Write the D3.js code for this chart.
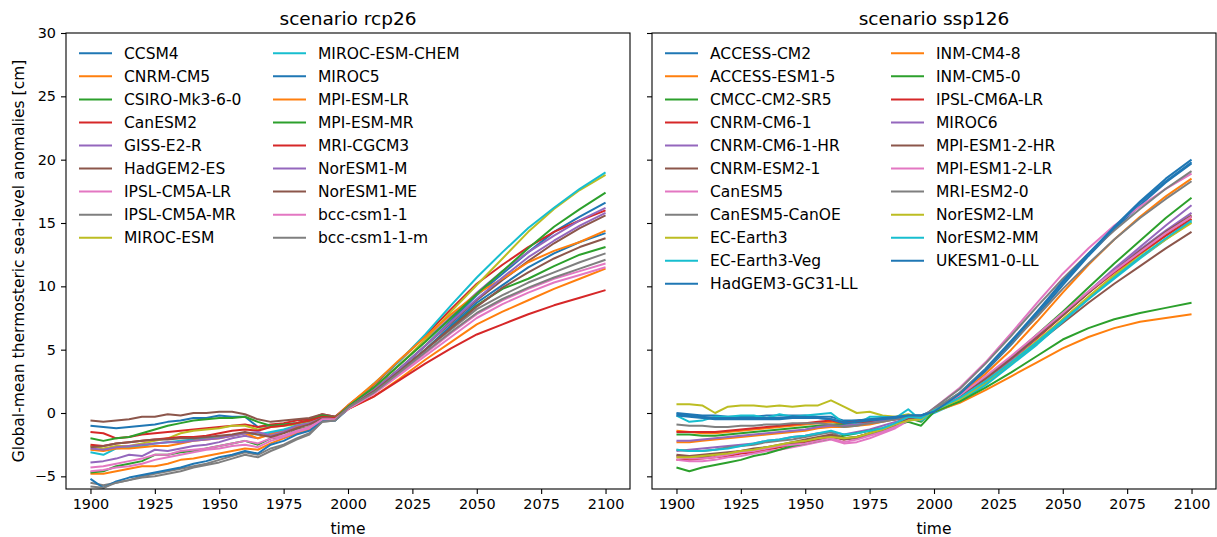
<!DOCTYPE html>
<html>
<head>
<meta charset="utf-8">
<script src="https://cdn.jsdelivr.net/npm/d3@7"></script>
<style>
  html, body { margin: 0; padding: 0; background: #fff; }
  svg { display: block; font-family: "DejaVu Sans", sans-serif; }
</style>
</head>
<body>
<svg id="chart" width="1217" height="537"></svg>
<script>
// ---------------- data ----------------
const years = [1900,1905,1910,1915,1920,1925,1930,1935,1940,1945,1950,1955,1960,1965,1970,1975,1980,1985,1990,1995,2000,
               2010,2020,2030,2040,2050,2060,2070,2080,2090,2100];
const xTicks = [1900,1925,1950,1975,2000,2025,2050,2075,2100];
const yTicks = [-5,0,5,10,15,20,25,30];
const palette = ["#1f77b4","#ff7f0e","#2ca02c","#d62728","#9467bd","#8c564b","#e377c2","#7f7f7f","#bcbd22","#17becf"];

const rcp26Names = ["CCSM4","CNRM-CM5","CSIRO-Mk3-6-0","CanESM2","GISS-E2-R","HadGEM2-ES","IPSL-CM5A-LR","IPSL-CM5A-MR","MIROC-ESM","MIROC-ESM-CHEM","MIROC5","MPI-ESM-LR","MPI-ESM-MR","MRI-CGCM3","NorESM1-M","NorESM1-ME","bcc-csm1-1","bcc-csm1-1-m"];
const rcp26Values = [
  [-1.0,-1.1,-1.2,-1.1,-1.0,-0.9,-0.7,-0.6,-0.4,-0.4,-0.2,-0.3,-0.3,-1.1,-1.0,-0.9,-0.8,-0.6,-0.2,-0.3,0.4, 1.8,3.5,5.3,7.3,9.3,11.0,12.7,14.3,15.5,16.6],
  [-4.8,-4.8,-4.6,-4.4,-4.2,-4.2,-4.0,-3.7,-3.6,-3.4,-3.2,-3.0,-2.8,-2.9,-2.4,-2.0,-1.6,-1.3,-0.6,-0.5,0.3, 1.3,2.7,4.2,5.6,7.0,8.0,8.9,9.8,10.6,11.4],
  [-4.7,-4.6,-4.2,-4.0,-3.8,-3.3,-3.3,-3.1,-3.0,-2.8,-2.6,-2.4,-2.2,-2.5,-2.0,-1.9,-1.3,-1.1,-0.4,-0.5,0.4, 1.7,3.3,5.0,6.8,8.5,9.8,10.6,11.6,12.5,13.1],
  [-1.5,-1.6,-2.0,-1.9,-1.7,-1.6,-1.5,-1.4,-1.3,-1.2,-1.1,-1.0,-0.9,-1.1,-0.9,-0.8,-0.6,-0.5,-0.1,-0.3,0.6, 2.2,4.1,6.1,8.2,10.2,11.7,13.1,14.3,15.2,16.0],
  [-3.9,-3.8,-3.6,-3.3,-3.4,-2.9,-3.0,-2.8,-2.6,-2.5,-2.3,-2.0,-1.8,-2.0,-1.6,-1.4,-1.0,-0.9,-0.4,-0.5,0.5, 2.0,3.8,5.7,7.6,9.5,11.2,12.7,14.0,15.2,16.2],
  [-0.6,-0.7,-0.6,-0.5,-0.3,-0.3,-0.1,-0.2,0.0,0.0,0.1,0.1,-0.1,-0.5,-0.7,-0.6,-0.5,-0.4,-0.1,-0.3,0.4, 1.8,3.5,5.3,7.1,8.9,10.5,12.0,13.4,14.6,15.6],
  [-4.3,-4.2,-4.0,-3.8,-3.6,-3.3,-3.3,-3.0,-2.9,-2.8,-2.6,-2.4,-2.2,-2.4,-2.0,-1.8,-1.4,-1.1,-0.5,-0.5,0.4, 1.6,3.1,4.7,6.3,7.8,8.9,9.8,10.6,11.2,11.8],
  [-5.5,-5.7,-5.5,-5.3,-5.0,-4.8,-4.6,-4.4,-4.2,-4.0,-3.7,-3.4,-3.1,-3.3,-2.8,-2.5,-2.0,-1.6,-0.7,-0.6,0.4, 1.7,3.3,5.0,6.6,8.2,9.3,10.3,11.1,11.9,12.6],
  [-2.6,-2.8,-2.6,-2.6,-2.4,-2.2,-2.0,-1.6,-1.4,-1.3,-1.2,-1.0,-1.0,-1.3,-1.1,-1.0,-0.9,-0.7,-0.4,-0.4,0.4, 2.0,3.8,5.8,8.0,10.1,12.2,14.3,16.1,17.6,18.8],
  [-3.1,-3.3,-2.8,-2.7,-2.6,-2.4,-2.3,-2.2,-2.1,-2.0,-1.9,-1.8,-1.6,-1.7,-1.5,-1.3,-1.0,-0.8,-0.4,-0.5,0.5, 2.3,4.1,6.2,8.5,10.7,12.7,14.6,16.2,17.7,19.0],
  [-5.2,-5.9,-5.4,-5.1,-4.9,-4.7,-4.5,-4.3,-4.0,-3.8,-3.5,-3.3,-3.0,-3.2,-2.5,-2.2,-1.7,-1.4,-0.6,-0.6,0.3, 1.6,3.3,5.0,6.9,8.7,10.1,11.5,12.6,13.5,14.2],
  [-2.9,-3.0,-2.8,-2.8,-2.7,-2.6,-2.6,-2.4,-2.2,-2.1,-2.0,-1.8,-1.6,-2.0,-1.7,-1.5,-1.1,-0.8,-0.3,-0.4,0.6, 2.3,4.2,6.0,7.8,9.4,10.6,11.9,12.8,13.5,14.4],
  [-2.0,-2.2,-2.0,-1.9,-1.6,-1.3,-1.0,-0.8,-0.6,-0.5,-0.4,-0.4,-0.3,-0.7,-1.0,-0.9,-0.8,-0.6,-0.2,-0.4,0.5, 2.0,3.8,5.6,7.5,9.4,11.2,13.0,14.7,16.1,17.4],
  [-2.5,-2.6,-2.4,-2.3,-2.2,-2.1,-2.0,-1.9,-1.9,-1.8,-1.6,-1.4,-1.3,-1.4,-1.1,-1.0,-0.8,-0.6,-0.3,-0.4,0.3, 1.3,2.6,3.9,5.1,6.2,7.0,7.8,8.5,9.1,9.7],
  [-2.8,-2.9,-2.7,-2.6,-2.5,-2.4,-2.3,-2.3,-2.2,-2.1,-2.0,-1.8,-1.6,-1.5,-1.8,-1.5,-1.0,-0.8,-0.4,-0.5,0.4, 1.8,3.5,5.3,7.2,9.0,10.7,12.3,13.6,14.8,15.8],
  [-2.7,-2.6,-2.4,-2.3,-2.2,-2.1,-2.1,-2.0,-2.0,-1.9,-1.8,-1.7,-1.5,-1.7,-1.9,-1.6,-1.2,-0.9,-0.4,-0.5,0.4, 1.7,3.3,5.0,6.7,8.4,9.9,11.1,12.2,13.1,13.8],
  [-4.6,-4.5,-4.3,-4.2,-4.0,-3.7,-3.5,-3.3,-3.1,-2.9,-2.8,-2.6,-2.5,-2.7,-2.2,-1.9,-1.5,-1.2,-0.5,-0.5,0.3, 1.5,3.0,4.5,6.0,7.5,8.6,9.5,10.3,10.9,11.5],
  [-5.8,-5.9,-5.5,-5.3,-5.1,-5.0,-4.8,-4.6,-4.3,-4.1,-3.9,-3.6,-3.3,-3.5,-3.0,-2.6,-2.1,-1.7,-0.7,-0.6,0.4, 1.6,3.2,4.8,6.4,7.9,9.0,9.9,10.7,11.4,12.1]
];

const ssp126Names = ["ACCESS-CM2","ACCESS-ESM1-5","CMCC-CM2-SR5","CNRM-CM6-1","CNRM-CM6-1-HR","CNRM-ESM2-1","CanESM5","CanESM5-CanOE","EC-Earth3","EC-Earth3-Veg","HadGEM3-GC31-LL","INM-CM4-8","INM-CM5-0","IPSL-CM6A-LR","MIROC6","MPI-ESM1-2-HR","MPI-ESM1-2-LR","MRI-ESM2-0","NorESM2-LM","NorESM2-MM","UKESM1-0-LL"];
const ssp126Values = [
  [0.0,-0.1,-0.2,-0.2,-0.3,-0.3,-0.3,-0.2,-0.2,-0.2,-0.2,-0.3,-0.3,-0.6,-0.6,-0.5,-0.5,-0.4,-0.2,-0.2,0.2, 1.5,3.3,5.4,7.7,10.1,12.4,14.5,16.4,18.2,19.7],
  [-1.4,-1.5,-1.6,-1.6,-1.5,-1.4,-1.3,-1.2,-1.1,-1.0,-0.9,-0.8,-0.7,-0.9,-0.8,-0.7,-0.6,-0.4,-0.2,-0.3,0.2, 1.4,3.1,5.0,7.2,9.5,11.7,13.7,15.5,17.1,18.5],
  [-1.7,-1.7,-1.8,-1.8,-1.7,-1.6,-1.5,-1.4,-1.3,-1.2,-1.1,-1.0,-0.9,-0.9,-0.8,-0.7,-0.6,-0.5,-0.4,-0.7,0.3, 1.3,2.8,4.4,6.2,8.0,9.9,11.8,13.6,15.4,17.0],
  [-3.7,-3.7,-3.6,-3.5,-3.4,-3.2,-3.1,-2.9,-2.7,-2.5,-2.3,-2.1,-1.9,-2.1,-1.9,-1.6,-1.3,-0.9,-0.5,-0.4,0.2, 1.2,2.6,4.2,5.9,7.7,9.5,11.2,12.8,14.2,15.5],
  [-3.0,-2.9,-2.8,-2.7,-2.6,-2.5,-2.4,-2.2,-2.1,-1.9,-1.8,-1.6,-1.5,-1.7,-1.5,-1.3,-1.0,-0.7,-0.4,-0.4,0.2, 1.2,2.6,4.2,6.0,7.8,9.6,11.4,13.1,14.8,16.4],
  [-3.4,-3.4,-3.5,-3.3,-3.2,-3.0,-2.9,-2.7,-2.6,-2.4,-2.2,-2.0,-1.8,-2.1,-2.0,-1.7,-1.4,-1.0,-0.5,-0.4,0.2, 1.1,2.4,3.9,5.5,7.1,8.7,10.2,11.6,13.0,14.3],
  [-3.7,-3.8,-3.8,-3.7,-3.5,-3.4,-3.2,-3.0,-2.9,-2.7,-2.5,-2.3,-2.1,-2.4,-2.3,-2.0,-1.6,-1.2,-0.6,-0.4,0.4, 2.0,4.0,6.3,8.7,11.0,13.0,14.8,16.3,17.7,18.9],
  [-2.9,-3.0,-3.0,-2.9,-2.7,-2.6,-2.5,-2.3,-2.2,-2.1,-1.9,-1.7,-1.5,-2.0,-1.9,-1.7,-1.4,-1.0,-0.6,-0.4,0.4, 1.9,3.9,6.1,8.4,10.6,12.6,14.4,16.1,17.7,19.1],
  [0.7,0.7,0.6,0.0,0.5,0.6,0.6,0.5,0.6,0.5,0.6,0.6,1.0,0.5,0.0,0.1,-0.2,-0.3,-0.1,-0.4,0.1, 1.0,2.3,3.9,5.6,7.4,9.2,10.9,12.5,14.0,15.3],
  [-0.2,-0.7,-0.6,-0.3,-0.3,-0.2,-0.2,-0.4,-0.1,-0.3,-0.2,-0.1,0.0,-0.8,-0.9,-0.3,-0.3,-0.4,0.3,-0.6,0.0, 0.9,2.2,3.8,5.4,7.2,9.0,10.6,12.2,13.7,15.1],
  [-0.1,-0.2,-0.3,-0.4,-0.4,-0.4,-0.4,-0.4,-0.4,-0.3,-0.3,-0.4,-0.5,-0.7,-0.6,-0.5,-0.4,-0.3,-0.2,-0.2,0.2, 1.6,3.5,5.7,8.0,10.4,12.6,14.7,16.7,18.5,20.0],
  [-2.3,-2.3,-2.2,-2.1,-2.0,-1.9,-1.8,-1.7,-1.6,-1.5,-1.4,-1.2,-1.1,-1.1,-1.0,-0.9,-0.7,-0.5,-0.3,-0.3,0.1, 0.8,1.8,2.9,4.0,5.1,6.0,6.7,7.2,7.5,7.8],
  [-4.3,-4.6,-4.3,-4.1,-3.9,-3.7,-3.4,-3.2,-2.9,-2.6,-2.4,-2.2,-2.0,-1.8,-1.6,-1.4,-1.2,-0.9,-0.7,-1.0,0.1, 0.9,2.0,3.2,4.5,5.8,6.7,7.4,7.9,8.3,8.7],
  [-1.5,-1.5,-1.5,-1.5,-1.4,-1.3,-1.2,-1.1,-1.0,-0.9,-0.8,-0.7,-0.6,-0.8,-0.7,-0.7,-0.6,-0.5,-0.3,-0.4,0.3, 1.3,2.7,4.3,6.0,7.8,9.5,11.1,12.6,14.0,15.3],
  [-2.2,-2.2,-2.1,-2.0,-1.9,-1.8,-1.7,-1.6,-1.5,-1.4,-1.3,-1.1,-1.0,-1.0,-0.9,-0.8,-0.6,-0.5,-0.3,-0.3,0.3, 1.3,2.7,4.3,6.0,7.8,9.6,11.3,12.9,14.4,15.8],
  [-3.3,-3.4,-3.3,-3.2,-3.1,-3.0,-2.8,-2.7,-2.5,-2.3,-2.1,-1.9,-1.7,-2.0,-1.9,-1.6,-1.3,-0.9,-0.5,-0.4,0.3, 1.3,2.7,4.3,6.0,7.7,9.5,11.2,12.8,14.3,15.6],
  [-3.5,-3.6,-3.6,-3.5,-3.3,-3.1,-3.0,-2.8,-2.6,-2.5,-2.4,-2.2,-2.0,-2.3,-2.1,-1.8,-1.5,-1.1,-0.6,-0.5,0.3, 1.4,2.9,4.5,6.2,7.9,9.6,11.2,12.7,14.2,15.5],
  [-0.9,-1.0,-1.0,-1.1,-1.1,-1.0,-1.0,-0.9,-0.9,-0.8,-0.8,-0.8,-0.9,-1.1,-1.0,-0.8,-0.7,-0.5,-0.3,-0.3,0.3, 1.6,3.4,5.5,7.6,9.8,11.8,13.7,15.4,16.9,18.3],
  [-3.5,-3.5,-3.4,-3.3,-3.2,-3.0,-2.9,-2.7,-2.5,-2.3,-2.2,-2.0,-1.9,-2.0,-1.9,-1.6,-1.3,-0.9,-0.6,-0.5,0.2, 1.1,2.5,4.0,5.7,7.4,9.1,10.8,12.3,13.7,15.0],
  [-2.9,-3.0,-3.0,-2.9,-2.8,-2.6,-2.4,-2.2,-2.1,-1.9,-1.8,-1.6,-1.4,-1.7,-1.6,-1.4,-1.2,-0.8,-0.3,-0.4,0.2, 1.2,2.5,4.0,5.6,7.3,9.0,10.7,12.3,13.8,15.2],
  [-0.2,-0.3,-0.4,-0.5,-0.5,-0.5,-0.5,-0.5,-0.5,-0.4,-0.4,-0.4,-0.5,-0.8,-0.7,-0.6,-0.5,-0.4,-0.2,-0.2,0.1, 1.5,3.4,5.6,7.9,10.3,12.5,14.6,16.6,18.3,19.8]
];

// ---------------- layout ----------------
const svg = d3.select("#chart");
const plotTop = 33, plotBottom = 489;
const panels = [
  {x0: 66, x1: 630, title: "scenario rcp26", names: rcp26Names, values: rcp26Values, labels: true, legendRows: 9},
  {x0: 652, x1: 1216, title: "scenario ssp126", names: ssp126Names, values: ssp126Values, labels: false, legendRows: 11}
];
const TICK_FS = 14.4, LAB_FS = 15.5, TITLE_FS = 18.5;
const y = d3.scaleLinear().domain([-6, 30]).range([plotBottom, plotTop]);

panels.forEach(p => {
  const x = d3.scaleLinear().domain([1890.5, 2109.5]).range([p.x0, p.x1]);
  const g = svg.append("g");

  const line = d3.line().x((d, i) => x(years[i])).y(d => y(d));
  g.selectAll("path.series").data(p.values).join("path")
    .attr("class", "series")
    .attr("fill", "none")
    .attr("stroke", (d, i) => palette[i % 10])
    .attr("stroke-width", 2)
    .attr("stroke-linejoin", "round")
    .attr("d", line);

  const xAxis = d3.axisBottom(x).tickValues(xTicks).tickFormat(d3.format("d")).tickSize(5).tickPadding(5);
  const gx = g.append("g").attr("transform", `translate(0,${plotBottom})`).call(xAxis);
  const yAxis = d3.axisLeft(y).tickValues(yTicks).tickSize(5).tickPadding(5)
    .tickFormat(p.labels ? (d => d < 0 ? "\u2212" + Math.abs(d) : String(d)) : "");
  const gy = g.append("g").attr("transform", `translate(${p.x0},0)`).call(yAxis);
  [gx, gy].forEach(a => {
    a.select(".domain").remove();
    a.selectAll(".tick line").attr("stroke", "#000").attr("stroke-width", 1.1);
    a.selectAll(".tick text").attr("fill", "#000").style("font-size", TICK_FS + "px").style("font-family", "DejaVu Sans");
  });

  g.append("rect").attr("x", p.x0).attr("y", plotTop).attr("width", p.x1 - p.x0).attr("height", plotBottom - plotTop)
    .attr("fill", "none").attr("stroke", "#000").attr("stroke-width", 1.1);

  g.append("text").attr("x", (p.x0 + p.x1) / 2).attr("y", 25).attr("text-anchor", "middle")
    .style("font-size", TITLE_FS + "px").attr("fill", "#000").text(p.title);
  g.append("text").attr("x", (p.x0 + p.x1) / 2).attr("y", 534).attr("text-anchor", "middle")
    .style("font-size", LAB_FS + "px").attr("fill", "#000").text("time");

  const lg = g.append("g");
  const colX = [p.x0 + 13, p.x0 + 207 + (p.labels ? 0 : 32)];
  p.names.forEach((n, i) => {
    const c = Math.floor(i / p.legendRows), r = i % p.legendRows;
    const cy = 53.3 + r * 23.05;
    lg.append("line").attr("x1", colX[c]).attr("x2", colX[c] + 33).attr("y1", cy).attr("y2", cy)
      .attr("stroke", palette[i % 10]).attr("stroke-width", 2);
    lg.append("text").attr("x", colX[c] + 45).attr("y", cy + 5.6)
      .style("font-size", LAB_FS + "px").attr("fill", "#000").text(n);
  });
});

svg.append("text").attr("transform", `translate(24,${(plotTop + plotBottom) / 2}) rotate(-90)`)
  .attr("text-anchor", "middle").style("font-size", LAB_FS + "px").attr("fill", "#000")
  .text("Global-mean thermosteric sea-level anomalies [cm]");
</script>
</body>
</html>
